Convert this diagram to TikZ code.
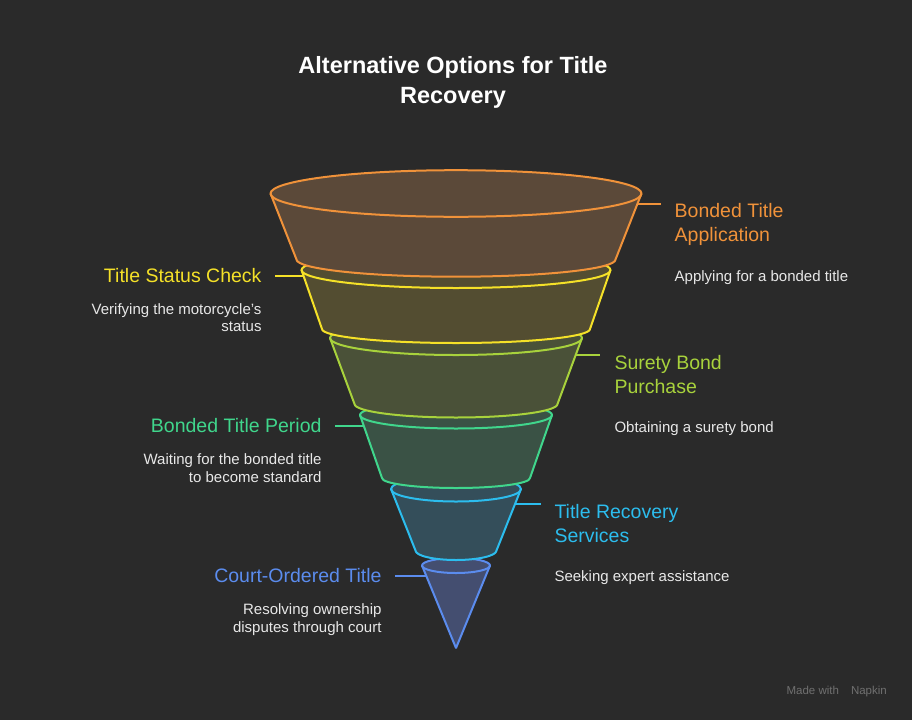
\documentclass[tikz,border=0pt]{standalone}
\usepackage{fontspec}
\setmainfont{Liberation Sans}
\usepackage{xcolor}
\usetikzlibrary{positioning}

\definecolor{bgc}{HTML}{2A2A2A}
\definecolor{descc}{HTML}{E8E8E8}
\definecolor{markc}{HTML}{707070}
\definecolor{cOrange}{HTML}{F0923A}
\definecolor{fOrange}{HTML}{5B4939}
\definecolor{cYellow}{HTML}{F5E128}
\definecolor{fYellow}{HTML}{534D31}
\definecolor{cLime}{HTML}{A8D23C}
\definecolor{fLime}{HTML}{4A5138}
\definecolor{cGreen}{HTML}{40D68C}
\definecolor{fGreen}{HTML}{3A5245}
\definecolor{cCyan}{HTML}{2CBDEE}
\definecolor{fCyan}{HTML}{344E5A}
\definecolor{cBlue}{HTML}{5B8CEE}
\definecolor{fBlue}{HTML}{444E70}

\begin{document}
\begin{tikzpicture}[
        x=1pt, y=-1pt,
        seg/.style={line width=2pt, line join=round},
        lnk/.style={line width=2pt},
        head/.style={inner sep=0pt, font=\fontsize{19.5}{24}\selectfont},
        desc/.style={inner sep=0pt, text=descc, font=\fontsize{15}{17.5}\selectfont}
    ]
    % Background
    \fill[bgc] (0,0) rectangle (912,720);

    % Title
    \node[inner sep=0pt, anchor=north, align=center, text=white,
          font=\fontsize{23.5}{29.5}\selectfont\bfseries] (title) at (453,56.5)
          {Alternative Options for Title\\Recovery};

    % Funnel segments, bottom first
    \foreach \c/\f/\ty/\tx/\tr/\by/\bx/\br in {
        cBlue/fBlue/565.5/34/7.5/648/0.01/0.01,
        cCyan/fCyan/489/65/12.5/550.5/40.5/9.5,
        cGreen/fGreen/415/96/13.5/478/74/10,
        cLime/fLime/338/126/17/404/101.5/13.5,
        cYellow/fYellow/270/154.5/18/329/134/14,
        cOrange/fOrange/193.5/185.5/23.3/259.5/159.5/17.2} {
        \filldraw[seg, draw=\c, fill=\f] (456-\tx,\ty)
            arc[start angle=180, end angle=0, x radius=\tx*1pt, y radius=\tr*1pt]
            -- (456+\bx,\by)
            arc[start angle=0, end angle=-180, x radius=\bx*1pt, y radius=\br*1pt]
            -- cycle;
        \draw[seg, draw=\c] (456+\tx,\ty)
            arc[start angle=0, end angle=-180, x radius=\tx*1pt, y radius=\tr*1pt];
    }

    % Connectors
    \coordinate (oA) at (637,204);   \coordinate (oB) at (661,204);
    \coordinate (yA) at (303,276);   \coordinate (yB) at (275,276);
    \coordinate (lA) at (575.5,355); \coordinate (lB) at (600,355);
    \coordinate (gA) at (364,426);   \coordinate (gB) at (335,426);
    \coordinate (cA) at (515,504);   \coordinate (cB) at (540.7,504);
    \coordinate (bA) at (426,576);   \coordinate (bB) at (395,576);
    \draw[lnk, cOrange] (oA) -- (oB);
    \draw[lnk, cYellow] (yA) -- (yB);
    \draw[lnk, cLime] (lA) -- (lB);
    \draw[lnk, cGreen] (gA) -- (gB);
    \draw[lnk, cCyan] (cA) -- (cB);
    \draw[lnk, cBlue] (bA) -- (bB);

    % Headings
    \node[head, text=cOrange, align=left, right=13.5pt of oB, anchor=north west, yshift=1pt] (hApp) {Bonded Title\\Application};
    \node[head, text=cYellow, align=right, left=13.3pt of yB, anchor=east] (hCheck) {Title Status Check};
    \node[head, text=cLime, align=left, right=14.3pt of lB, anchor=north west] (hBond) {Surety Bond\\Purchase};
    \node[head, text=cGreen, align=right, left=13.3pt of gB, anchor=east] (hPeriod) {Bonded Title Period};
    \node[head, text=cCyan, align=left, right=13.6pt of cB, anchor=north west] (hServ) {Title Recovery\\Services};
    \node[head, text=cBlue, align=right, left=13.3pt of bB, anchor=east] (hCourt) {Court-Ordered Title};

    % Descriptions
    \node[desc, align=left, below=24.5pt of hApp.south west, anchor=north west] (dApp) {Applying for a bonded title};
    \node[desc, align=right, below=20pt of hCheck.south east, anchor=north east] (dCheck) {Verifying the motorcycle's\\status};
    \node[desc, align=left, below=28pt of hBond.south west, anchor=north west] (dBond) {Obtaining a surety bond};
    \node[desc, align=right, below=20.3pt of hPeriod.south east, anchor=north east] (dPeriod) {Waiting for the bonded title\\to become standard};
    \node[desc, align=left, below=28pt of hServ.south west, anchor=north west] (dServ) {Seeking expert assistance};
    \node[desc, align=right, below=20.3pt of hCourt.south east, anchor=north east] (dCourt) {Resolving ownership\\disputes through court};

    % Watermark
    \node[inner sep=0pt, anchor=east, text=markc, font=\fontsize{11.5}{13}\selectfont] (mark) at (887,692) {Made with\hspace{12pt}Napkin};
\end{tikzpicture}
\end{document}
